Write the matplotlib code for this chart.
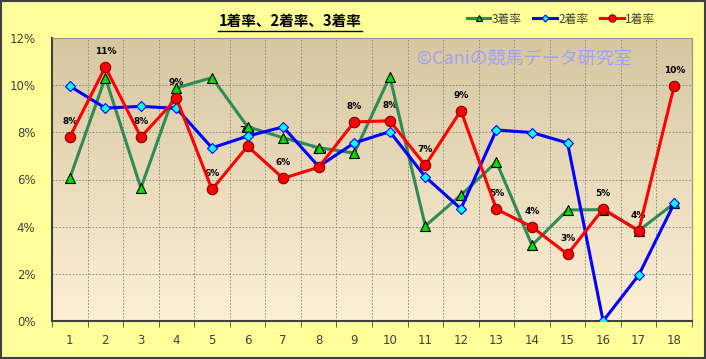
import numpy as np
import matplotlib
matplotlib.use("Agg")
import matplotlib.pyplot as plt
from matplotlib.lines import Line2D
from matplotlib.patches import Rectangle

plt.rcParams["font.family"] = ["Noto Sans CJK JP", "DejaVu Sans"]

# ---- data ---------------------------------------------------------------
gates = list(range(1, 19))
rate_1st = [7.80, 10.77, 7.80, 9.44, 5.58, 7.41, 6.05, 6.52, 8.44,
            8.49, 6.60, 8.92, 4.74, 3.99, 2.83, 4.75, 3.83, 9.98]
rate_2nd = [9.96, 9.03, 9.10, 9.02, 7.34, 7.84, 8.23, 6.55, 7.55,
            8.03, 6.11, 4.76, 8.10, 7.99, 7.55, 0.00, 1.94, 4.99]
rate_3rd = [6.05, 10.32, 5.64, 9.88, 10.32, 8.24, 7.77, 7.35, 7.12,
            10.36, 4.03, 5.34, 6.74, 3.21, 4.71, 4.72, 3.83, 4.99]
y_ticks = [0, 2, 4, 6, 8, 10, 12]

C_GREEN = "#2E8B57"
C_BLUE = "#0000FF"
C_RED = "#FF0000"

fig = plt.figure(figsize=(7.06, 3.59), dpi=100)
fig.patch.set_facecolor("#FFFF99")
fig.add_artist(Rectangle((0.001, 0.002), 0.997, 0.995, transform=fig.transFigure,
                         fill=False, edgecolor="#404040", lw=1.5))

ax = fig.add_axes([52 / 706, 38 / 359, 640 / 706, 283 / 359])

# gradient background
grad = np.linspace(0, 1, 256).reshape(-1, 1)
top = np.array([0.84, 0.78, 0.63])
bot = np.array([0.99, 0.94, 0.84])
img = top * (1 - grad[..., None]) + bot * grad[..., None]
img = img.reshape(256, 1, 3)
ax.imshow(img, extent=[0.5, 18.5, 0, 12], aspect="auto", origin="upper", zorder=0)

x = np.array(gates)
ax.plot(x, rate_3rd, color=C_GREEN, lw=2.2, marker="^", ms=7, mfc="#00DD00",
        mec="black", mew=0.8, zorder=4, label="3着率")
ax.plot(x, rate_2nd, color=C_BLUE, lw=2.2, marker="D", ms=5, mfc="#00FFFF",
        mec=C_BLUE, mew=0.8, zorder=5, label="2着率")
ax.plot(x, rate_1st, color=C_RED, lw=2.2, marker="o", ms=7.5, mfc=C_RED,
        mec="#800000", mew=0.8, zorder=6, label="1着率")

for xi, v in zip(x, rate_1st):
    ax.annotate(f"{v:.0f}%", (xi, v), xytext=(0, 8), textcoords="offset points",
                ha="center", va="bottom", fontsize=6.5, fontweight="bold",
                family="DejaVu Sans", color="black", zorder=3)

ax.set_xlim(0.5, 18.5)
ax.set_ylim(0, 12)
ax.set_yticks(y_ticks)
ax.set_yticklabels([f"{t}%" for t in y_ticks])
ax.set_xticks(x)
ax.set_xticks(np.arange(0.5, 19, 1), minor=True)
ax.tick_params(axis="x", which="major", length=0, pad=9, labelsize=8.5, colors="#404040")
ax.tick_params(axis="x", which="minor", length=4, color="#404040")
ax.tick_params(axis="y", length=0, pad=12, labelsize=8.5, colors="#404040")
for lbl in ax.get_xticklabels() + ax.get_yticklabels():
    lbl.set_family("DejaVu Sans")

ax.set_axisbelow(True)
ax.grid(True, which="minor", axis="x", ls=(0, (2, 2)), color="#808080", lw=0.6)
ax.grid(True, which="major", axis="y", ls=(0, (2, 2)), color="#808080", lw=0.6)

ax.spines["left"].set_color("#404040")
ax.spines["bottom"].set_color("#404040")
ax.spines["left"].set_linewidth(1.5)
ax.spines["bottom"].set_linewidth(1.5)
ax.spines["top"].set_color("#909090")
ax.spines["right"].set_color("#909090")

ax.text(0.738, 0.928, "©Caniの競馬データ研究室", transform=ax.transAxes,
        ha="center", va="center", fontsize=13, color="#A0A0FF", zorder=2)

# title with underline
fig.text(290 / 706, 1 - 21 / 359, "1着率、2着率、3着率", ha="center", va="center",
         fontsize=10.5, fontweight="bold")
fig.add_artist(Line2D([218 / 706, 362 / 706], [1 - 31 / 359, 1 - 31 / 359],
                      transform=fig.transFigure, color="black", lw=1))

leg = fig.legend(loc="center", bbox_to_anchor=(561 / 706, 1 - 19 / 359), ncol=3,
                 frameon=False, fontsize=8.5, handlelength=2.0, handletextpad=0.1,
                 columnspacing=1.0, markerscale=0.7)
for t in leg.get_texts():
    t.set_color("#404040")

fig.savefig("out.png", dpi=100, facecolor=fig.get_facecolor())
